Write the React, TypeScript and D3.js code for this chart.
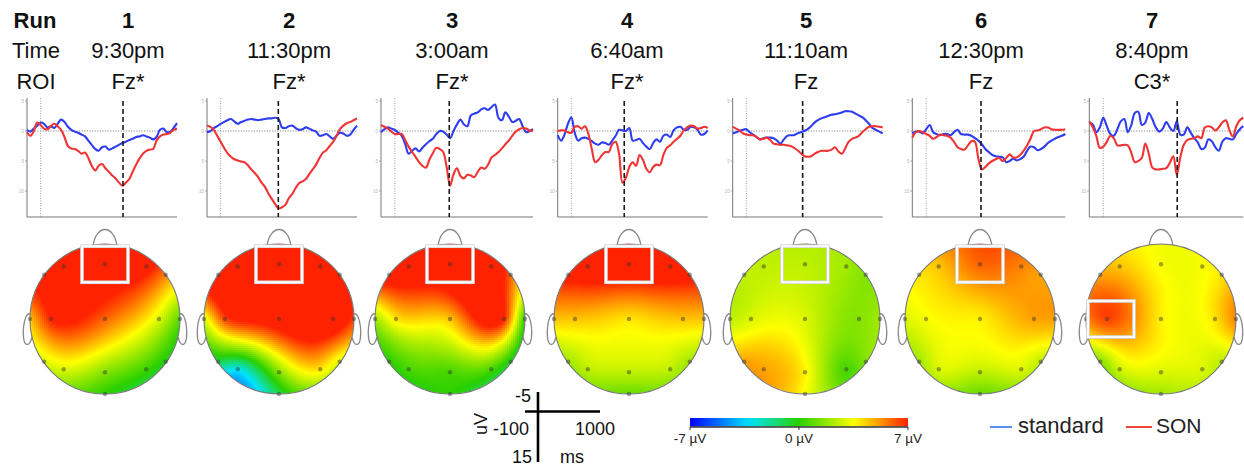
import React, { useMemo } from "react";
import * as d3 from "d3";

// ---- header rows ----
const runLabels = ["1", "2", "3", "4", "5", "6", "7"];
const timeLabels = ["9:30pm", "11:30pm", "3:00am", "6:40am", "11:10am", "12:30pm", "8:40pm"];
const roiLabels = ["Fz*", "Fz*", "Fz*", "Fz*", "Fz", "Fz", "C3*"];
const roiElectrodes = ["Fz", "Fz", "Fz", "Fz", "Fz", "Fz", "C3"];

// latency (ms) of the dashed marker in each run
const peakLatencies = [604, 423, 394, 388, 413, 394, 528];

// ERP sample times (ms)
const sampleTimes = [
  -100, -75, -50, -25, 0, 25, 50, 75, 100,
  125, 150, 175, 200, 225, 250, 275, 300, 325,
  350, 375, 400, 425, 450, 475, 500, 525, 550,
  575, 600, 625, 650, 675, 700, 725, 750, 775,
  800, 825, 850, 875, 900, 925, 950, 975, 1000,
];

// ---- ERP amplitudes (uV), standard tone ----
const standardRun1 = [
  -0.2, 0.1, -0.4, -0.9, -1.4, -1.2, -0.6, -0.8, -0.5,
  -1.2, -1.9, -1.5, -0.7, -0.2, 0.1, 0.3, 0.6, 0.9,
  1.6, 2.3, 3.0, 3.3, 2.7, 2.6, 3.1, 2.9, 2.6,
  2.3, 2.0, 1.8, 1.5, 1.3, 1.0, 0.9, 0.7, 0.9,
  1.1, 1.4, 1.0, -0.2, -0.4, 0.2, 0.1, -0.5, -1.3,
];
const standardRun2 = [
  0.2, 0.0, -0.5, -0.8, -1.2, -1.5, -1.8, -2.0, -1.6,
  -1.2, -1.5, -1.7, -1.9, -2.0, -1.9, -1.8, -1.9, -2.0,
  -2.1, -2.1, -2.2, -2.0, -0.6, -0.5, -0.8, -0.9, -0.5,
  -0.2, -0.3, -0.6, -0.4, -0.1, 0.1, 0.8, 0.7, 0.5,
  0.9, 1.3, 0.8, 0.3, 0.4, 0.8, 0.6, -0.2, -0.9,
];
const standardRun3 = [
  0.2, -0.3, -0.6, -0.4, -0.2, 0.3, 0.8, 2.2, 3.8,
  3.3, 2.9, 3.4, 2.8, 2.2, 1.7, 1.3, 0.5, 0.0,
  0.1, 0.6, 1.2, 0.0, -1.1, -1.9, -1.1, -0.8, -2.6,
  -2.9, -3.1, -3.6, -3.8, -3.5, -4.0, -4.4, -2.2, -1.8,
  -3.1, -2.4, -1.5, -1.7, -2.0, -0.8, 0.2, 0.0, -0.3,
];
const standardRun4 = [
  0.7, 1.6, 0.6, -1.2, -2.3, 0.3, 1.6, 1.2, 1.1,
  1.3, 1.7, 2.1, 2.3, 1.9, 2.0, 2.3, 1.6, 0.8,
  -0.2, -0.1, 0.0, -0.5, 1.6, 1.5, 1.3, 2.0, 2.6,
  3.0, 2.0, 1.4, 1.8, 0.8, 0.6, 1.0, -0.1, -0.6,
  -0.7, -0.2, -0.2, -0.7, -0.6, -0.2, 0.6, 0.5, -0.1,
];
const standardRun5 = [
  0.4, 0.2, 0.0, -0.2, -0.3, 0.2, 0.6, 1.0, 1.4,
  1.2, 1.1, 1.1, 1.2, 1.6, 2.1, 1.4, 0.8, 0.7,
  0.7, 0.4, 0.2, 0.0, -0.3, -0.8, -1.4, -1.8, -2.1,
  -2.3, -2.5, -2.7, -2.8, -2.9, -3.1, -3.3, -3.3, -3.2,
  -2.9, -2.6, -2.3, -1.8, -1.2, -0.5, -0.2, 0.1, 0.4,
];
const standardRun6 = [
  0.4, 0.1, 0.1, 0.4, -0.3, -1.0, 0.2, 0.5, 0.7,
  0.5, 0.5, 0.7, 0.2, -0.2, 0.5, 0.6, 0.6, 0.8,
  1.2, 1.6, 2.2, 3.0, 3.5, 4.0, 4.2, 4.3, 4.4,
  5.2, 5.0, 4.6, 4.9, 4.7, 4.3, 3.3, 2.6, 2.7,
  3.2, 3.0, 2.6, 2.0, 1.6, 1.3, 1.0, 0.8, 0.5,
];
const standardRun7 = [
  -1.4, -1.1, 0.2, -0.6, -2.2, -0.8, 0.5, 0.8, -0.3,
  -1.6, -2.0, 0.2, -1.0, -3.0, -3.2, -1.0, -1.4, -3.0,
  -2.0, -0.6, 0.1, -0.4, -1.5, -0.6, 0.0, -1.6, 0.6,
  0.6, -0.6, 0.3, 1.2, 1.9, 3.0, 2.8, 1.4, 1.7,
  2.7, 3.3, 1.8, 1.2, 1.3, 1.4, 0.5, -0.3, -0.8,
];

// ---- ERP amplitudes (uV), subject's own name ----
const sonRun1 = [
  0.2, 0.8, 0.0, -1.4, -1.0, -0.4, -0.3, -0.8, -1.2,
  -0.8, -0.2, 1.0, 2.5, 2.9, 3.0, 3.3, 3.8, 3.6,
  4.5, 5.8, 6.6, 5.8, 5.5, 6.2, 6.8, 7.4, 7.9,
  8.6, 9.1, 8.6, 8.0, 6.8, 5.6, 4.6, 3.8, 3.3,
  3.1, 3.0, 1.6, 0.9, 0.6, 0.5, 0.3, -0.2, -0.4,
];
const sonRun2 = [
  -0.9, -0.7, -0.2, 0.8, 1.8, 2.8, 3.7, 4.3, 4.7,
  4.9, 5.1, 5.2, 5.7, 6.4, 7.0, 7.7, 8.6, 9.3,
  10.4, 11.3, 12.2, 12.9, 12.7, 12.3, 11.2, 10.5, 9.5,
  8.7, 8.4, 8.0, 7.2, 6.4, 5.6, 4.5, 3.6, 3.2,
  2.5, 1.8, 0.8, -0.3, -0.9, -1.3, -1.5, -1.8, -2.1,
];
const sonRun3 = [
  -1.0, -0.7, -0.4, 0.1, 0.5, 0.5, 0.5, 1.5, 2.6,
  3.5, 4.3, 5.2, 5.8, 6.1, 4.8, 3.7, 2.8, 3.0,
  3.5, 6.0, 9.1, 7.2, 6.2, 7.5, 7.9, 7.3, 7.4,
  7.7, 6.8, 6.1, 6.3, 5.6, 4.4, 4.0, 3.5, 2.9,
  2.2, 1.6, 0.8, 0.1, -0.3, -0.5, -0.4, -0.1, 0.0,
];
const sonRun4 = [
  0.0, -0.1, -0.1, 0.2, 0.3, -0.7, -0.8, -0.4, -0.8,
  0.5, 3.0, 5.2, 4.8, 4.0, 3.5, 3.5, 2.2, 1.8,
  3.8, 8.6, 7.8, 6.0, 5.2, 5.8, 4.0, 4.8, 6.3,
  6.9, 6.0, 5.6, 5.7, 4.0, 2.8, 2.4, 1.8, 1.3,
  0.8, -0.1, -0.6, -0.9, -0.8, -0.4, -0.5, -0.7, -0.5,
];
const sonRun5 = [
  -0.7, -0.4, -0.1, 0.4, 0.6, 0.7, 0.7, 1.0, 1.4,
  1.3, 1.1, 1.5, 2.1, 2.2, 2.3, 2.3, 2.4, 2.5,
  2.8, 3.2, 3.7, 4.2, 4.3, 4.2, 3.8, 3.5, 3.3,
  3.3, 3.3, 3.1, 2.7, 3.4, 3.8, 2.9, 1.8, 1.3,
  1.1, 0.8, 0.2, -0.3, -0.7, -0.8, -0.8, -0.7, -0.6,
];
const sonRun6 = [
  1.1, 0.2, 0.0, 0.2, 0.5, 0.8, 1.3, 1.0, 0.6,
  0.7, 0.8, 1.1, 1.8, 2.7, 3.0, 3.1, 2.4, 1.7,
  1.8, 4.6, 6.4, 6.0, 5.4, 5.0, 4.7, 4.5, 5.0,
  4.5, 3.9, 4.4, 4.4, 4.0, 3.3, 2.4, 1.3, 0.0,
  -0.1, -0.3, -0.6, -0.6, -0.3, -0.2, -0.2, -0.2, -0.3,
];
const sonRun7 = [
  -1.6, -0.6, 0.8, 2.8, 2.6, 1.8, 0.8, 1.2, 2.4,
  2.4, 2.3, 2.4, 3.6, 5.2, 5.0, 4.5, 2.1, 3.8,
  6.1, 6.4, 6.4, 6.3, 6.2, 5.3, 4.2, 7.3, 4.4,
  2.3, 1.5, 1.3, 1.2, 0.9, 1.2, -0.6, -0.8, -0.6,
  -0.1, -0.6, -1.4, -1.8, -0.2, 0.9, -0.8, -1.8, -2.2,
];

const standardSeries = [standardRun1, standardRun2, standardRun3, standardRun4, standardRun5, standardRun6, standardRun7];
const sonSeries = [sonRun1, sonRun2, sonRun3, sonRun4, sonRun5, sonRun6, sonRun7];

// ---- scalp electrodes (unit head coordinates, y down) ----
const electrodeNames = ["F7", "F3", "Fz", "F4", "F8", "T7", "C3", "Cz", "C4", "T8", "P7", "P3", "Pz", "P4", "P8", "Oz"];
const electrodeX = [-0.81, -0.55, 0, 0.55, 0.81, -1.0, -0.72, 0, 0.72, 1.0, -0.81, -0.55, 0, 0.55, 0.81, 0];
const electrodeY = [-0.59, -0.7, -0.73, -0.7, -0.59, 0, 0, 0, 0, 0, 0.57, 0.67, 0.71, 0.67, 0.57, 1.0];

// ---- topography amplitudes (uV) per electrode ----
const topoRun1 = [8, 8, 8, 7.5, 5.5, 4.5, 7, 6, 3, 0.8, 3, 3, 1.5, 0.3, -0.3, 0];
const topoRun2 = [9, 9, 9, 9, 8, 3, 6.5, 8, 8.5, 6.5, -1, -3, 1.5, 4, 3, -1];
const topoRun3 = [8, 8.5, 8.5, 8.5, 6, 2, 4, 4.5, 7, 0, 0, 0.5, 0.5, 0.5, -0.5, 0];
const topoRun4 = [7.5, 8.5, 8.5, 8.5, 7.5, 4.5, 4.5, 4, 4.5, 4.5, 2, 2.5, 2.5, 2.5, 2, 1];
const topoRun5 = [2.5, 2.5, 2.5, 2, 1.5, 2.5, 3, 3, 1.5, 2, 5, 5, 3.8, 0.5, 1.5, 3.5];
const topoRun6 = [4, 4.5, 6, 5.5, 5, 3, 3.5, 3.8, 5, 5, 2, 3, 2.5, 3, 2.5, 1];
const topoRun7 = [5, 4.5, 3.5, 3.5, 4, 5.5, 6.5, 3.8, 4, 5.5, 1.5, 2.8, 3, 3, 2.5, 2];
const topoSeries = [topoRun1, topoRun2, topoRun3, topoRun4, topoRun5, topoRun6, topoRun7];

// colour bar
const colorDomain = [-7, -3.2, 0, 3.6, 5.4, 7];
const colorRange = ["#0000ff", "#00e4ff", "#2ad000", "#ffff00", "#ff8a00", "#ff2200"];
const colorTicks = [-7, 0, 7];

// scale bar labels
const ampTicks = [-5, 0, 5, 10];

// ---- layout ----
const W = 1244;
const H = 467;
const FONT = "'Liberation Sans', Arial, sans-serif";
const COL_X = [128, 289, 452, 627, 806, 981, 1152];
const PANEL_LEFT = [27, 207, 381, 557.7, 732.7, 912.3, 1089.3];
const PANEL_WIDTH = [150, 150, 152, 150, 150, 153, 154];
const PLOT_TOP = 101;
const PLOT_BOTTOM = 217;
const HEAD_CX = [105, 279, 450, 629, 805, 980, 1161];
const HEAD_CY = 319;
const HEAD_R = 75;
const BLUE = "#2f3df0";
const RED = "#f03434";

const colorScale = d3
  .scaleLinear<string>()
  .domain(colorDomain)
  .range(colorRange)
  .interpolate(d3.interpolateRgb)
  .clamp(true);

// thin plate spline through the electrode values
function fitSurface(xs: number[], ys: number[], vs: number[]) {
  const n = xs.length;
  const m = n + 3;
  const phi = (d2: number) => (d2 < 1e-12 ? 0 : 0.5 * d2 * Math.log(d2));
  const A: number[][] = [];
  for (let i = 0; i < m; i++) A.push(new Array(m + 1).fill(0));
  for (let i = 0; i < n; i++) {
    for (let j = 0; j < n; j++) {
      const dx = xs[i] - xs[j];
      const dy = ys[i] - ys[j];
      A[i][j] = phi(dx * dx + dy * dy) + (i === j ? 0.003 : 0);
    }
    A[i][n] = 1;
    A[i][n + 1] = xs[i];
    A[i][n + 2] = ys[i];
    A[n][i] = 1;
    A[n + 1][i] = xs[i];
    A[n + 2][i] = ys[i];
    A[i][m] = vs[i];
  }
  for (let c = 0; c < m; c++) {
    let p = c;
    for (let r = c + 1; r < m; r++) if (Math.abs(A[r][c]) > Math.abs(A[p][c])) p = r;
    const tmp = A[c];
    A[c] = A[p];
    A[p] = tmp;
    for (let r = 0; r < m; r++) {
      if (r === c) continue;
      const f = A[r][c] / A[c][c];
      if (f === 0) continue;
      for (let k = c; k <= m; k++) A[r][k] -= f * A[c][k];
    }
  }
  const w = A.map((row, i) => row[m] / row[i]);
  return (x: number, y: number) => {
    let s = w[n] + w[n + 1] * x + w[n + 2] * y;
    for (let i = 0; i < n; i++) {
      const dx = x - xs[i];
      const dy = y - ys[i];
      s += w[i] * phi(dx * dx + dy * dy);
    }
    return s;
  };
}

const CELL = 2;

function Topomap({ idx }: { idx: number }) {
  const cx = HEAD_CX[idx];
  const cy = HEAD_CY;
  const r = HEAD_R;
  const cells = useMemo(() => {
    const f = fitSurface(electrodeX, electrodeY, topoSeries[idx]);
    const out: { x: number; y: number; c: string }[] = [];
    for (let y = cy - r; y < cy + r; y += CELL) {
      for (let x = cx - r; x < cx + r; x += CELL) {
        const ux = (x + CELL / 2 - cx) / r;
        const uy = (y + CELL / 2 - cy) / r;
        if (ux * ux + uy * uy > 1.08) continue;
        out.push({ x, y, c: colorScale(f(ux, uy)) });
      }
    }
    return out;
  }, [idx]);

  const top = cy - r;
  const nose = `M${cx - 12},${top + 2} C${cx - 9},${top - 20} ${cx + 9},${top - 20} ${cx + 12},${top + 2}`;
  const ear = (s: number) => {
    const ex = cx + s * r;
    return `M${ex - s * 0.5},${cy - 5} C${ex + s * 7},${cy - 8} ${ex + s * 9},${cy + 22} ${ex + s * 4},${cy + 25} C${ex + s * 1},${cy + 27} ${ex - s * 1},${cy + 22} ${ex - s * 2},${cy + 18}`;
  };
  const roiIdx = electrodeNames.indexOf(roiElectrodes[idx]);
  const bx = cx + electrodeX[roiIdx] * r + (roiElectrodes[idx] === "C3" ? 4 : 0);
  const by = cy + electrodeY[roiIdx] * r;

  return (
    <g>
      <clipPath id={`head-clip-${idx}`}>
        <circle cx={cx} cy={cy} r={r} />
      </clipPath>
      <path d={nose} fill="white" stroke="#8a8a8a" strokeWidth={1.3} />
      <path d={ear(-1)} fill="none" stroke="#8a8a8a" strokeWidth={1.3} />
      <path d={ear(1)} fill="none" stroke="#8a8a8a" strokeWidth={1.3} />
      <g clipPath={`url(#head-clip-${idx})`} shapeRendering="crispEdges">
        {cells.map((d, i) => (
          <rect key={i} x={d.x} y={d.y} width={CELL + 0.3} height={CELL + 0.3} fill={d.c} />
        ))}
      </g>
      <circle cx={cx} cy={cy} r={r} fill="none" stroke="#777" strokeWidth={1.1} />
      {electrodeNames.map((name, i) => (
        <circle
          key={name}
          cx={cx + electrodeX[i] * r}
          cy={cy + electrodeY[i] * r}
          r={2.2}
          fill="#333"
          opacity={0.45}
        />
      ))}
      <rect x={bx - 23} y={by - 18} width={46} height={36} fill="none" stroke="#cfcfcf" strokeWidth={3.6} />
      <rect x={bx - 23} y={by - 18} width={46} height={36} fill="none" stroke="#fafafa" strokeWidth={2.2} />
    </g>
  );
}

function Waveform({ idx }: { idx: number }) {
  const left = PANEL_LEFT[idx];
  const right = left + PANEL_WIDTH[idx];
  const x = d3.scaleLinear().domain([-100, 1000]).range([left, right]);
  const y = d3.scaleLinear().domain([-5, 14.33]).range([PLOT_TOP, PLOT_BOTTOM]);
  const line = d3
    .line<number>()
    .x((_, i) => x(sampleTimes[i]))
    .y((v) => y(v))
    .curve(d3.curveCatmullRom.alpha(0.5));
  const px = x(peakLatencies[idx]);
  return (
    <g>
      <line x1={left} x2={right} y1={y(0)} y2={y(0)} stroke="#8c8c8c" strokeWidth={1} strokeDasharray="1.2,1.4" />
      <line x1={x(0)} x2={x(0)} y1={PLOT_TOP - 3} y2={PLOT_BOTTOM} stroke="#a0a0a0" strokeWidth={1} strokeDasharray="1,1.5" />
      <line x1={left} x2={left} y1={PLOT_TOP - 3} y2={PLOT_BOTTOM} stroke="#777" strokeWidth={1} />
      <line x1={left} x2={right} y1={PLOT_BOTTOM} y2={PLOT_BOTTOM} stroke="#777" strokeWidth={1.2} />
      {ampTicks.map((t) => (
        <g key={t}>
          <line x1={left - 2} x2={left} y1={y(t)} y2={y(t)} stroke="#999" strokeWidth={0.8} />
          <text x={left - 3} y={y(t) + 1.5} fontSize={4.5} fill="#b5b5b5" textAnchor="end" fontFamily={FONT}>
            {Math.abs(t)}
          </text>
        </g>
      ))}
      <path d={line(standardSeries[idx]) ?? ""} fill="none" stroke={BLUE} strokeWidth={2.1} strokeLinejoin="round" />
      <path d={line(sonSeries[idx]) ?? ""} fill="none" stroke={RED} strokeWidth={2.1} strokeLinejoin="round" />
      <line x1={px} x2={px} y1={PLOT_TOP} y2={PLOT_BOTTOM} stroke="#1a1a1a" strokeWidth={1.6} strokeDasharray="5,3" />
    </g>
  );
}

export default function App() {
  const gradStops = d3.range(0, 1.0001, 0.05).map((p) => ({
    offset: p,
    color: colorScale(colorDomain[0] + p * (colorDomain[colorDomain.length - 1] - colorDomain[0])),
  }));
  const cbar = d3.scaleLinear().domain([-7, 7]).range([690, 908]);

  return (
    <svg
      width={W}
      height={H}
      viewBox={`0 0 ${W} ${H}`}
      style={{ position: "absolute", left: 0, top: 0, background: "white" }}
      fontFamily={FONT}
    >
      <defs>
        <linearGradient id="cbar-grad" x1="0" x2="1" y1="0" y2="0">
          {gradStops.map((s, i) => (
            <stop key={i} offset={s.offset} stopColor={s.color} />
          ))}
        </linearGradient>
      </defs>

      {/* row headers */}
      <text x={35} y={28} fontSize={22} fontWeight="bold" textAnchor="middle" fill="#111">Run</text>
      <text x={36} y={58} fontSize={22} textAnchor="middle" fill="#111">Time</text>
      <text x={36} y={89} fontSize={22} textAnchor="middle" fill="#111">ROI</text>
      {runLabels.map((r, i) => (
        <g key={r}>
          <text x={COL_X[i]} y={28} fontSize={22} fontWeight="bold" textAnchor="middle" fill="#111">{r}</text>
          <text x={COL_X[i]} y={58} fontSize={22} textAnchor="middle" fill="#111">{timeLabels[i]}</text>
          <text x={COL_X[i]} y={89} fontSize={22} textAnchor="middle" fill="#111">{roiLabels[i]}</text>
        </g>
      ))}

      {runLabels.map((r, i) => (
        <Waveform key={`w${r}`} idx={i} />
      ))}
      {runLabels.map((r, i) => (
        <Topomap key={`t${r}`} idx={i} />
      ))}

      {/* scale bar */}
      <line x1={538} x2={538} y1={392} y2={462} stroke="#000" strokeWidth={2.6} />
      <line x1={525} x2={600} y1={411.5} y2={411.5} stroke="#000" strokeWidth={2.6} />
      <text x={531} y={402} fontSize={18} textAnchor="end" fill="#111">-5</text>
      <text x={529} y={435} fontSize={18} textAnchor="end" fill="#111">-100</text>
      <text x={575} y={435} fontSize={18} fill="#111">1000</text>
      <text x={532} y={463} fontSize={18} textAnchor="end" fill="#111">15</text>
      <text x={560} y={463} fontSize={18} fill="#111">ms</text>
      <text x={0} y={0} fontSize={18} textAnchor="middle" fill="#111" transform="translate(487,424) rotate(-90)">uV</text>

      {/* colour bar */}
      <rect x={690} y={418} width={218} height={8.5} fill="url(#cbar-grad)" />
      <line x1={690} x2={908} y1={427} y2={427} stroke="#333" strokeWidth={1.3} />
      {colorTicks.map((t) => (
        <g key={t}>
          <line x1={cbar(t)} x2={cbar(t)} y1={427} y2={430} stroke="#333" strokeWidth={1} />
          <text x={cbar(t)} y={443} fontSize={13.5} textAnchor="middle" fill="#222">{`${t} µV`}</text>
        </g>
      ))}

      {/* legend */}
      <line x1={990} x2={1012} y1={427} y2={427} stroke="#5b8def" strokeWidth={2} />
      <text x={1018} y={433} fontSize={22} fill="#222">standard</text>
      <line x1={1126} x2={1152} y1={427} y2={427} stroke="#f0433a" strokeWidth={2} />
      <text x={1156} y={433} fontSize={21} fill="#222">SON</text>
    </svg>
  );
}
